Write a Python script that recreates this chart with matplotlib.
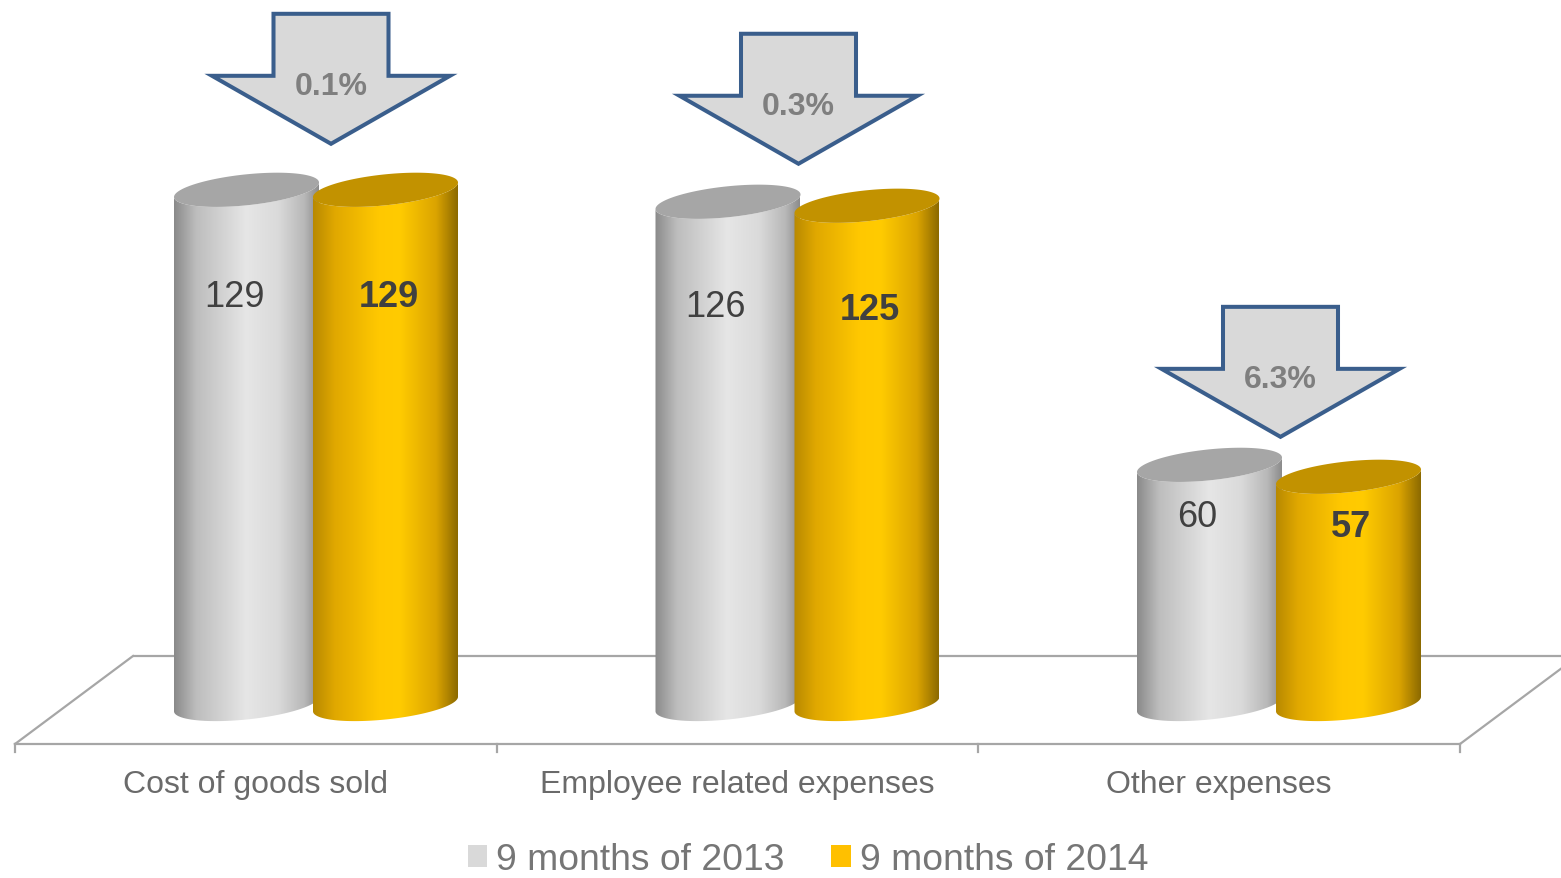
import numpy as np
import matplotlib
matplotlib.use("Agg")
import matplotlib.pyplot as plt
from matplotlib.patches import Polygon, Patch
from matplotlib.colors import LinearSegmentedColormap

# ---- data ----
categories = ["Cost of goods sold", "Employee related expenses", "Other expenses"]
series_names = ["9 months of 2013", "9 months of 2014"]
values_2013 = [129, 126, 60]
values_2014 = [129, 125, 57]
change_labels = ["0.1%", "0.3%", "6.3%"]

plt.rcParams['font.family'] = ['Liberation Sans', 'DejaVu Sans']

W, H = 1561, 879
fig = plt.figure(figsize=(W / 100, H / 100), dpi=100)
ax = fig.add_axes([0, 0, 1, 1])
ax.set_axis_off()

# vertical scale: pixels per value unit, and pixel row of the zero line
PPU = 3.986
BASE_PX = 705


def vy(px):
    """pixel row -> value coordinate"""
    return (BASE_PX - px) / PPU


ax.set_xlim(0, W)
ax.set_ylim(vy(H), vy(0))

# ---- floor (3D plane outline) ----
floor_c = '#a6a6a6'
back_y, front_y, tick_y = vy(657), vy(745), vy(753)
ax.plot([133, W + 20], [back_y, back_y], color=floor_c, lw=1.6, zorder=1, solid_capstyle='butt')
ax.plot([15, 1460], [front_y, front_y], color=floor_c, lw=1.6, zorder=1)
ax.plot([15, 133], [front_y, back_y], color=floor_c, lw=1.6, zorder=1)
ax.plot([1460, 1578], [front_y, back_y], color=floor_c, lw=1.6, zorder=1)
for tx in [15, 497, 978, 1460]:
    ax.plot([tx, tx], [front_y, tick_y], color=floor_c, lw=1.6, zorder=1)

# ---- cylinder bars ----
gray_cmap = LinearSegmentedColormap.from_list(
    'g', [(0, '#8a8a8a'), (0.15, '#bdbdbd'), (0.5, '#e6e6e6'), (0.72, '#dadada'),
          (0.9, '#b8b8b8'), (1, '#8c8c8c')])
gold_cmap = LinearSegmentedColormap.from_list(
    'y', [(0, '#b88900'), (0.15, '#e0a800'), (0.45, '#ffc800'), (0.6, '#ffcb00'),
          (0.85, '#dba400'), (1, '#8c6a00')])

A = 72.5      # half width (px)
B = 15.5      # ellipse half height (px)
SHEAR = 0.1   # tilt of the ellipses


def ellipse_pts(xc, yc_val, t):
    xs = xc + A * np.cos(t)
    dy_px = B * np.sin(t) - SHEAR * A * np.cos(t)
    return xs, yc_val - dy_px / PPU


def cylinder(xc, value, cmap, top_color, z):
    tf = np.linspace(0, np.pi, 120)
    bx, by = ellipse_pts(xc, 0, tf)
    tx, ty = ellipse_pts(xc, value, tf[::-1])
    body = np.column_stack([np.r_[bx, tx], np.r_[by, ty]])
    poly = Polygon(body, closed=True, facecolor='none', edgecolor='none', zorder=z)
    ax.add_patch(poly)
    grad = np.linspace(0, 1, 256).reshape(1, -1)
    im = ax.imshow(grad, cmap=cmap, extent=[xc - A, xc + A, by.min() - 1, ty.max() + 1],
                   aspect='auto', origin='lower', interpolation='bilinear', zorder=z)
    im.set_clip_path(poly)
    t = np.linspace(0, 2 * np.pi, 240)
    ex, ey = ellipse_pts(xc, value, t)
    ax.add_patch(Polygon(np.column_stack([ex, ey]), closed=True, facecolor=top_color,
                         edgecolor='none', zorder=z + 0.1))


group_x = [256, 737.5, 1219]
GRAY_DX, GOLD_DX = -9.5, 129.5
# arrow placement relative to the pair of cylinders (px)
ARROW_DX = [15, 1, 1.5]
ARROW_GAP_PX = [46, 38, 28]

for i, cx in enumerate(group_x):
    v13, v14 = values_2013[i], values_2014[i]
    xg, xy = cx + GRAY_DX, cx + GOLD_DX
    cylinder(xg, v13, gray_cmap, '#a6a6a6', 2)
    cylinder(xy, v14, gold_cmap, '#c29200', 3)
    ax.text(xg - 12, 0.8 * v13, f"{v13}", ha='center', va='center_baseline', fontsize=26,
            color='#404040', zorder=5)
    ax.text(xy + 3, 0.8 * v14, f"{v14}", ha='center', va='center_baseline', fontsize=26,
            fontweight='bold', color='#404040', zorder=5)
    ax.text(cx, vy(785), categories[i], ha='center', va='center', fontsize=23,
            color='#6a6a6a')

    # down arrow with percentage change
    ax_c = (xg + xy) / 2 + ARROW_DX[i]
    tip_px = BASE_PX - max(v13, v14) * PPU - ARROW_GAP_PX[i]
    shape = [(-57.5, -130), (57.5, -130), (57.5, -68), (119, -68), (0, 0),
             (-119, -68), (-57.5, -68)]
    pts = [(ax_c + dx, vy(tip_px + dy)) for dx, dy in shape]
    ax.add_patch(Polygon(pts, closed=True, facecolor='#d9d9d9', edgecolor='#3a5e8c',
                         lw=2.9, joinstyle='miter', zorder=6))
    ax.text(ax_c, vy(tip_px - 61), change_labels[i], ha='center', va='center_baseline',
            fontsize=23, fontweight='bold', color='#7f7f7f', zorder=7)

# ---- legend ----
handles = [Patch(facecolor='#d9d9d9', edgecolor='none'),
           Patch(facecolor='#ffc000', edgecolor='none')]
fig.legend(handles, series_names, loc='center', bbox_to_anchor=(808 / W, 1 - 861 / H),
           ncol=2, frameon=False, fontsize=26.8, handlelength=0.52, handleheight=0.52,
           handletextpad=0.25, columnspacing=1.25, labelcolor='#767676',
           borderpad=0.0)

fig.savefig('out.png', dpi=100)
